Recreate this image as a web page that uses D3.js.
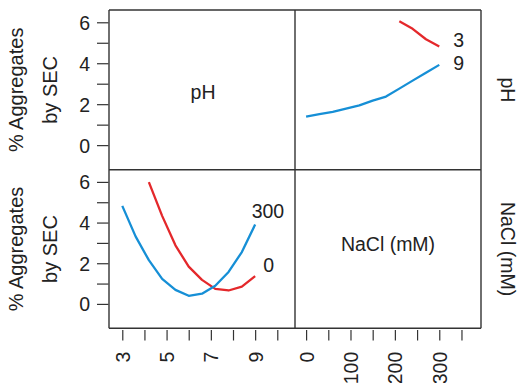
<!DOCTYPE html>
<meta charset="utf-8">
<head>
  <title>Interaction plot - % Aggregates by SEC</title>
  <script src="https://d3js.org/d3.v7.min.js"></script>
</head>
<style>
body { margin: 0; background: #fff; }
text { font-family: "Liberation Sans", Arial, Helvetica, sans-serif; fill: #222; }
.frame line { stroke: #333; stroke-width: 1.4px; }
.axis line { stroke: #333; stroke-width: 1.2px; }
.axis text { font-size: 19.5px; }
.curve { fill: none; stroke-width: 2.3px; stroke-linejoin: round; }
</style>
<body>
<script>

// pH levels, and % aggregates at NaCl = 300 mM and 0 mM
var phLevels = [3, 3.6, 4.2, 4.8, 5.4, 6.0, 6.6, 7.2, 7.8, 8.4, 9.0];
var aggNaCl300 = [4.82, 3.32, 2.15, 1.23, 0.69, 0.40, 0.50, 0.89, 1.57, 2.55, 3.90];
var aggNaCl0 = [null, null, 5.99, 4.33, 2.88, 1.83, 1.18, 0.74, 0.66, 0.85, 1.37];

// NaCl levels (mM), and % aggregates at pH 9 and pH 3
var naclLevels = [0, 30, 60, 90, 120, 150, 180, 210, 240, 270, 300];
var aggPH9 = [1.39, 1.51, 1.63, 1.78, 1.94, 2.17, 2.37, 2.76, 3.15, 3.54, 3.92];
var aggPH3 = [null, null, null, null, null, null, null, 6.05, 5.68, 5.17, 4.82];

var yTicks = [0, 1, 2, 3, 4, 5, 6];
var phTicks = [3, 4, 5, 6, 7, 8, 9, 10];
var naclTicks = [0, 50, 100, 150, 200, 250, 300, 350];

var width = 518,
    height = 383;

// panel edges (note: "top" is a reserved window property)
var x0 = 109, xMid = 295, x1 = 481,
    y0 = 10, yMid = 169.7, y1 = 328.3;

var red = "#e4282b", blue = "#168fd6";

var svg = d3.select("body").append("svg")
    .attr("width", width)
    .attr("height", height);

var yTop = d3.scaleLinear().domain([-1.2, 6.6]).range([yMid, y0]);
var yBot = d3.scaleLinear().domain([-1.2, 6.6]).range([y1, yMid]);
var xPH = d3.scaleLinear().domain([2.4, 10.8]).range([x0, xMid]);
var xNaCl = d3.scaleLinear().domain([-25, 394]).range([xMid, x1]);

// y axes (left side only)
function yAxis(scale) {
  var g = svg.append("g")
      .attr("class", "axis")
      .attr("transform", "translate(" + (x0 - 0.5) + ",0)")
      .call(d3.axisLeft(scale).tickValues(yTicks).tickSize(11.5).tickPadding(7)
        .tickFormat(function(d) { return d % 2 === 0 ? d : ""; }));
  g.select(".domain").remove();
  g.selectAll(".tick text").attr("dy", "0.36em");
}
yAxis(yTop);
yAxis(yBot);

// x axes (bottom only)
function xAxis(scale, ticks, labelled) {
  var g = svg.append("g")
      .attr("class", "axis")
      .attr("transform", "translate(0," + (y1 + 1.7) + ")")
      .call(d3.axisBottom(scale).tickValues(ticks).tickSize(10.5)
        .tickFormat(function(d) { return labelled.indexOf(d) >= 0 ? d : ""; }));
  g.select(".domain").remove();
  g.selectAll(".tick text")
      .attr("transform", "rotate(-90)")
      .attr("text-anchor", "end")
      .attr("x", -21.7)
      .attr("y", 0)
      .attr("dy", "0.36em");
}
xAxis(xPH, phTicks, [3, 5, 7, 9]);
xAxis(xNaCl, naclTicks, [0, 100, 200, 300]);

// curves
function curve(xs, ys, x, y, color) {
  var pts = xs.map(function(v, i) { return [v, ys[i]]; });
  svg.append("path")
      .datum(pts)
      .attr("class", "curve")
      .attr("stroke", color)
      .attr("d", d3.line()
        .defined(function(d) { return d[1] != null; })
        .x(function(d) { return x(d[0]); })
        .y(function(d) { return y(d[1]); }));
}
curve(naclLevels, aggPH3, xNaCl, yTop, red);
curve(naclLevels, aggPH9, xNaCl, yTop, blue);
curve(phLevels, aggNaCl0, xPH, yBot, red);
curve(phLevels, aggNaCl300, xPH, yBot, blue);

// end labels
function endLabel(txt, x, y, dx, dy) {
  svg.append("text")
      .attr("x", x + dx)
      .attr("y", y + dy)
      .style("font-size", "19.5px")
      .text(txt);
}
endLabel("3", xNaCl(300), yTop(4.82), 14, 1);
endLabel("9", xNaCl(300), yTop(3.92), 14, 5);
endLabel("300", xPH(9), yBot(3.90), -3.5, -7);
endLabel("0", xPH(9), yBot(1.37), 8, -4);

// frame
var frame = svg.append("g").attr("class", "frame");
[[x0, y0, x1, y0], [x0, y1, x1, y1], [x0, yMid, x1, yMid],
 [x0, y0, x0, y1], [x1, y0, x1, y1], [xMid, y0, xMid, y1]]
  .forEach(function(l) {
    frame.append("line")
        .attr("x1", l[0]).attr("y1", l[1])
        .attr("x2", l[2]).attr("y2", l[3]);
  });

// diagonal labels
svg.append("text")
    .attr("x", (x0 + xMid) / 2 + 1).attr("y", (y0 + yMid) / 2 + 2)
    .attr("text-anchor", "middle").attr("dy", "0.35em")
    .style("font-size", "19.5px")
    .text("pH");
svg.append("text")
    .attr("x", (xMid + x1) / 2).attr("y", (yMid + y1) / 2 - 5)
    .attr("text-anchor", "middle").attr("dy", "0.35em")
    .style("font-size", "19.5px")
    .text("NaCl (mM)");

// left titles
[(y0 + yMid) / 2, (yMid + y1) / 2].forEach(function(cy) {
  svg.append("text")
      .attr("transform", "translate(23," + cy + ") rotate(-90)")
      .attr("text-anchor", "middle")
      .style("font-size", "20px")
      .text("% Aggregates");
  svg.append("text")
      .attr("transform", "translate(57," + cy + ") rotate(-90)")
      .attr("text-anchor", "middle")
      .style("font-size", "20px")
      .text("by SEC");
});

// right titles
svg.append("text")
    .attr("transform", "translate(501," + (y0 + yMid) / 2 + ") rotate(90)")
    .attr("text-anchor", "middle")
    .style("font-size", "19.5px")
    .text("pH");
svg.append("text")
    .attr("transform", "translate(501," + (yMid + y1) / 2 + ") rotate(90)")
    .attr("text-anchor", "middle")
    .style("font-size", "19.5px")
    .text("NaCl (mM)");

</script>
</body>
